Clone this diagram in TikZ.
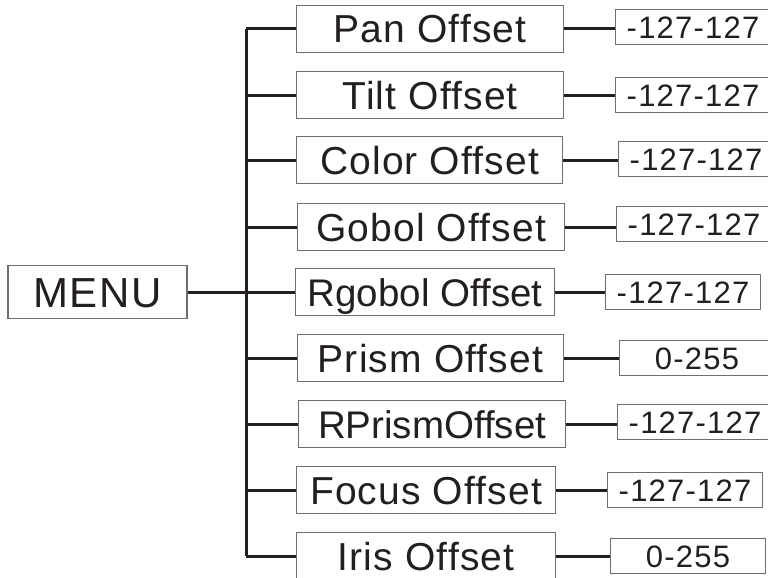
\documentclass[tikz,border=0pt]{standalone}
\usepackage{fontspec}
\setmainfont{Liberation Sans}
\newfontfamily\midfont[LetterSpace=3]{Liberation Sans}
\newfontfamily\valfont[LetterSpace=4]{Liberation Sans}
\newfontfamily\menufont[LetterSpace=4]{Liberation Sans}
\definecolor{boxgray}{HTML}{6D6E71}
\definecolor{txt}{HTML}{231F20}
\begin{document}
\begin{tikzpicture}[x=1pt,y=-1pt,
  box/.style={draw=boxgray, line width=1.2pt, inner sep=0pt, text=txt},
  midbox/.style={box, anchor=west, minimum height=47pt,
    font=\midfont\fontsize{39}{39}\selectfont, text height=28pt, text depth=0pt},
  tightbox/.style={midbox, font=\rmfamily\fontsize{38.5}{38.5}\selectfont},
  valbox/.style={box, anchor=west, minimum width=155pt, minimum height=35pt,
    font=\valfont\fontsize{31}{31}\selectfont, text height=22pt, text depth=0pt},
  link/.style={draw=txt, line width=3pt}]
\useasboundingbox (0,0) rectangle (768,578);
\clip (0,0) rectangle (768,578);
\fill[white] (0,0) rectangle (768,578);
\coordinate (trunk) at (246,0);

\node[box, minimum width=179pt, minimum height=53pt,
  font=\menufont\fontsize{42}{42}\selectfont, text height=30pt, text depth=0pt]
  (menu) at (97.5,292) {MENU};

\node[midbox, minimum width=267pt] (m1) at (296,29) {Pan Offset};
\node[midbox, minimum width=267pt] (m2) at (296,95) {Tilt Offset};
\node[midbox, minimum width=266pt] (m3) at (296,160) {Color Offset};
\node[midbox, minimum width=267pt] (m4) at (297,227) {Gobol Offset};
\node[tightbox, minimum width=259pt] (m5) at (295,292) {Rgobol Offset};
\node[midbox, minimum width=266pt] (m6) at (297,358) {Prism Offset};
\node[tightbox, minimum width=267pt] (m7) at (298,424) {RPrismOffset};
\node[midbox, minimum width=259pt] (m8) at (296,490) {Focus Offset};
\node[midbox, minimum width=259pt] (m9) at (296,556) {Iris Offset};

\node[valbox] (r1) at (615,27) {-127-127};
\node[valbox] (r2) at (615,95) {-127-127};
\node[valbox] (r3) at (618,159) {-127-127};
\node[valbox] (r4) at (616,224) {-127-127};
\node[valbox] (r5) at (605,292) {-127-127};
\node[valbox] (r6) at (619,358) {0-255};
\node[valbox] (r7) at (617,422) {-127-127};
\node[valbox] (r8) at (607,490) {-127-127};
\node[valbox] (r9) at (610,556) {0-255};

\draw[link] (menu.east) -- (menu.east -| trunk);
\draw[link] (m1.west -| trunk) -- (m9.west -| trunk);
\foreach \i in {1,...,9}{
  \draw[link] (m\i.west -| trunk) -- (m\i.west);
  \draw[link] (m\i.east) -- (m\i.east -| r\i.west);
}
\end{tikzpicture}
\end{document}
